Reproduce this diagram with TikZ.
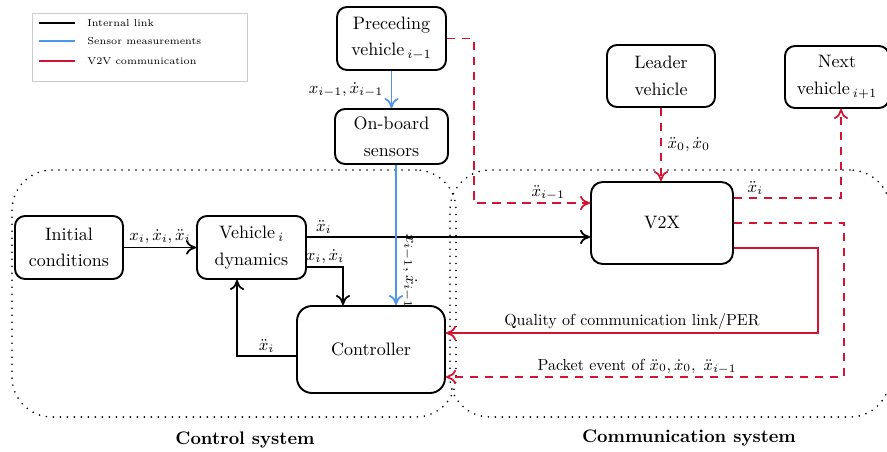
\RequirePackage{fix-cm}
\documentclass[tikz,border=0pt]{standalone}
\usetikzlibrary{arrows.meta,calc}
\definecolor{vred}{RGB}{210,20,50}
\definecolor{vblue}{RGB}{80,150,230}
\begin{document}
\begin{tikzpicture}[x=0.6pt,y=-0.6pt,
  box/.style={draw, line width=1.15pt, rounded corners=6pt, inner sep=0pt, align=center,
     font=\fontsize{10.8}{16}\selectfont},
  tip/.style={-{To[length=6pt,width=8.5pt]}},
  blk/.style={line width=1.05pt, tip},
  sensline/.style={line width=1.05pt, vblue, tip},
  vtv/.style={line width=1.05pt, vred, dash pattern=on 5pt off 4pt, tip},
  vtvs/.style={line width=1.05pt, vred, tip},
  lbl/.style={font=\fontsize{9.8}{12}\selectfont, inner sep=1.5pt, text=black},
  tlbl/.style={font=\fontsize{9.6}{11}\selectfont, inner sep=1.5pt, text=black},
  region/.style={draw, line width=1.1pt, dash pattern=on 0pt off 4.2pt, line cap=round, rounded corners=24pt, inner sep=0pt},
  legline/.style={line width=1.6pt},
  legtext/.style={font=\fontsize{6}{7}\selectfont, anchor=west, inner sep=0pt},
  systitle/.style={font=\fontsize{10.9}{13}\selectfont\bfseries}
]
\useasboundingbox (0,0) rectangle (887,452);
\clip (0,0) rectangle (887,452);

% regions
\node[region, minimum width=266.4pt, minimum height=148.2pt] (ctrlsys) at (234,293.5) {};
\node[region, minimum width=264pt, minimum height=148.2pt] (commsys) at (670,293.5) {};
\node[systitle] (ctitle) at (245,440) {Control system};
\node[systitle] (mtitle) at (689,438) {Communication system};

% legend
\node[draw=gray!40, line width=0.6pt, minimum width=129pt, minimum height=40.8pt, inner sep=0pt] (legend) at (139.5,47) {};
\draw[legline, black] (39,23) -- (75,23);
\draw[legline, vblue] (39,41) -- (75,41);
\draw[legline, vred] (39,61) -- (75,61);
\node[legtext] (l1) at (87,23) {Internal link};
\node[legtext] (l2) at (87,41) {Sensor measurements};
\node[legtext] (l3) at (87,61) {V2V communication};

% boxes
\node[box, minimum width=65.4pt, minimum height=37.8pt] (prec) at (391.5,38.5) {Preceding\\vehicle\,$_{i-1}$};
\node[box, minimum width=67.8pt, minimum height=33pt] (sens) at (391.5,136.5) {On-board\\sensors};
\node[box, minimum width=64.8pt, minimum height=37.2pt] (leader) at (661,76) {Leader\\vehicle};
\node[box, minimum width=62.4pt, minimum height=37.2pt] (next) at (837,77) {Next\\vehicle\,$_{i+1}$};
\node[box, rounded corners=7pt, minimum width=85.2pt, minimum height=49.2pt] (v2x) at (662,223) {V2X};
\node[box, minimum width=64.8pt, minimum height=37.8pt] (init) at (69,247.5) {Initial\\conditions};
\node[box, minimum width=65.4pt, minimum height=37.8pt] (veh) at (251.5,247.5) {Vehicle\,$_i$\\dynamics};
\node[box, rounded corners=9pt, minimum width=88.8pt, minimum height=52.2pt] (ctrl) at (371,349.5) {Controller};

% internal links
\draw[blk] (init) -- (veh) node[lbl, midway, above] {$x_i, \dot{x}_i, \ddot{x}_i$};
\draw[blk] ([yshift=6.3pt]veh.east) -- ([yshift=6.3pt]veh.east -| v2x.west) node[lbl, pos=0.06, above] {$\ddot{x}_i$};
\draw[blk] ([yshift=-11.7pt]veh.east) -| ([xshift=-16.8pt]ctrl.north) node[lbl, pos=0.25, above] {$x_i, \dot{x}_i$};
\draw[blk] ([yshift=-3.9pt]ctrl.west) -| ([xshift=-8.7pt]veh.south) node[lbl, pos=0.25, above] {$\ddot{x}_i$};

% sensor measurements
\draw[sensline] (prec.south) -- (sens.north) node[lbl, midway, left, xshift=-3pt] {$x_{i-1}, \dot{x}_{i-1}$};
\draw[sensline] ([xshift=2.7pt]sens.south) -- ([xshift=2.7pt]sens.south |- ctrl.north) node[lbl, pos=0.76, rotate=-90, anchor=south, yshift=2pt] {$x_{i-1}, \dot{x}_{i-1}$};

% V2V communication
\draw[vtv] (prec.east) -- ([xshift=16.2pt]prec.east) |- ([yshift=12pt]v2x.west) node[lbl, pos=0.82, above] {$\ddot{x}_{i-1}$};
\draw[vtv] (leader.south) -- (leader.south |- v2x.north) node[lbl, midway, right, xshift=2pt] {$\ddot{x}_0, \dot{x}_0$};
\draw[vtv] ([yshift=15pt]v2x.east) -| ([xshift=2.4pt]next.south) node[lbl, pos=0.1, above] {$\ddot{x}_i$};
\draw[vtv] (v2x.east) -- ++(110,0) |- ([yshift=-16.5pt]ctrl.east) node[tlbl, pos=0.76, above] {Packet event of $\ddot{x}_0, \dot{x}_0,\ \ddot{x}_{i-1}$};
\draw[vtvs] ([yshift=-15pt]v2x.east) -- ++(84,0) |- ([yshift=9.9pt]ctrl.east) node[tlbl, pos=0.75, above] {Quality of communication link/PER};
\end{tikzpicture}
\end{document}
